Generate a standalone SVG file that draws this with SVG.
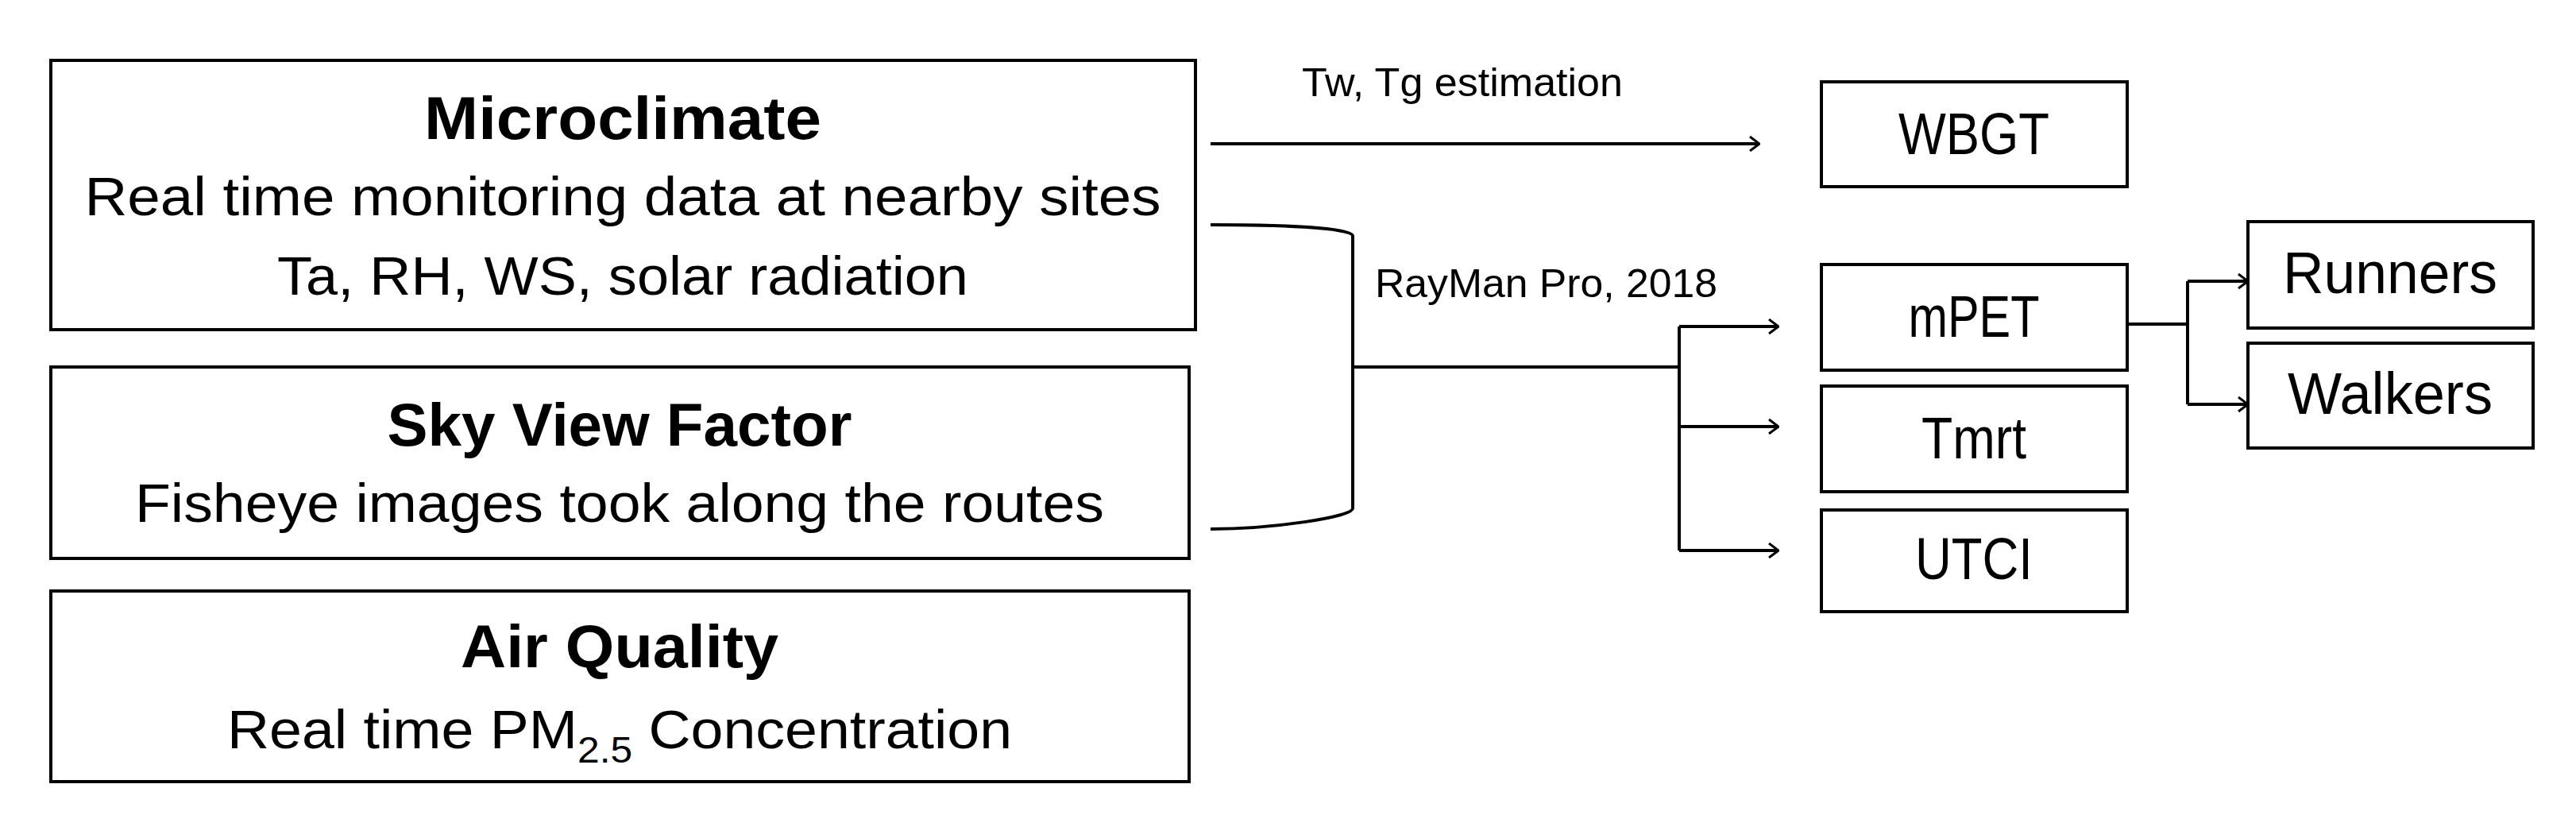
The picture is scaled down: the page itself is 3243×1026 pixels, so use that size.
<svg xmlns="http://www.w3.org/2000/svg" width="3243" height="1026" viewBox="0 0 3243 1026">
<style>
rect{fill:#fff;stroke:#000;stroke-width:4}
text{font-family:"Liberation Sans",Arial,sans-serif;fill:#000;text-anchor:middle}
.t{font-weight:bold;font-size:76px}
.s{font-size:68px}
.b{font-size:74px}
.l{font-size:50px;text-anchor:start}
.c{fill:none;stroke:#000;stroke-width:4}
</style>
<defs><marker id="a" markerWidth="14" markerHeight="20" refX="13" refY="10" orient="auto" markerUnits="userSpaceOnUse"><path d="M1,1 L13,10 L1,19" fill="none" stroke="#000" stroke-width="3"/></marker></defs>
<rect width="3243" height="1026" style="fill:#fff;stroke:none"/>
<g id="microclimate"><rect x="64" y="76" width="1441" height="339"/><text class="t" x="784" y="175" textLength="500" lengthAdjust="spacingAndGlyphs">Microclimate</text><text class="s" x="784" y="271" textLength="1355" lengthAdjust="spacingAndGlyphs">Real time monitoring data at nearby sites</text><text class="s" x="784" y="371" textLength="870" lengthAdjust="spacingAndGlyphs">Ta, RH, WS, solar radiation</text></g>
<g id="svf"><rect x="64" y="462" width="1433" height="241"/><text class="t" x="780" y="561" textLength="585" lengthAdjust="spacingAndGlyphs">Sky View Factor</text><text class="s" x="780" y="657" textLength="1220" lengthAdjust="spacingAndGlyphs">Fisheye images took along the routes</text></g>
<g id="air"><rect x="64" y="744" width="1433" height="240"/><text class="t" x="780" y="840" textLength="400" lengthAdjust="spacingAndGlyphs">Air Quality</text><text class="s" x="780" y="942" textLength="988" lengthAdjust="spacingAndGlyphs"><tspan>Real time PM</tspan><tspan font-size="46" dy="18">2.5</tspan><tspan dy="-18"> Concentration</tspan></text></g>
<g id="wbgt"><rect x="2293" y="103" width="385" height="132"/><text class="b" x="2485" y="194" textLength="190" lengthAdjust="spacingAndGlyphs">WBGT</text></g>
<g id="mpet"><rect x="2293" y="333" width="385" height="133"/><text class="b" x="2485" y="424" textLength="165" lengthAdjust="spacingAndGlyphs">mPET</text></g>
<g id="tmrt"><rect x="2293" y="486" width="385" height="133"/><text class="b" x="2485" y="577" textLength="132" lengthAdjust="spacingAndGlyphs">Tmrt</text></g>
<g id="utci"><rect x="2293" y="642" width="385" height="128"/><text class="b" x="2485" y="729" textLength="148" lengthAdjust="spacingAndGlyphs">UTCI</text></g>
<g id="runners"><rect x="2830" y="279" width="359" height="134"/><text class="b" x="3009" y="369" textLength="270" lengthAdjust="spacingAndGlyphs">Runners</text></g>
<g id="walkers"><rect x="2830" y="432" width="359" height="132"/><text class="b" x="3009" y="521" textLength="258" lengthAdjust="spacingAndGlyphs">Walkers</text></g>
<g id="connectors">
<path class="c" d="M1524,181 H2215" marker-end="url(#a)"/>
<path class="c" d="M1524,283 C1600,283 1703,286 1703,297 V640 C1703,651 1600,666 1524,666"/>
<path class="c" d="M1703,462 H2114"/>
<path class="c" d="M2114,411 V693"/>
<path class="c" d="M2114,411 H2239" marker-end="url(#a)"/>
<path class="c" d="M2114,537 H2239" marker-end="url(#a)"/>
<path class="c" d="M2114,693 H2239" marker-end="url(#a)"/>
<path class="c" d="M2678,408 H2754 M2754,354 V509"/>
<path class="c" d="M2754,354 H2830" marker-end="url(#a)"/>
<path class="c" d="M2754,509 H2830" marker-end="url(#a)"/>
<text class="l" x="1639" y="121" textLength="404" lengthAdjust="spacingAndGlyphs">Tw, Tg estimation</text>
<text class="l" x="1731" y="374" textLength="431" lengthAdjust="spacingAndGlyphs">RayMan Pro, 2018</text>
</g>
</svg>
